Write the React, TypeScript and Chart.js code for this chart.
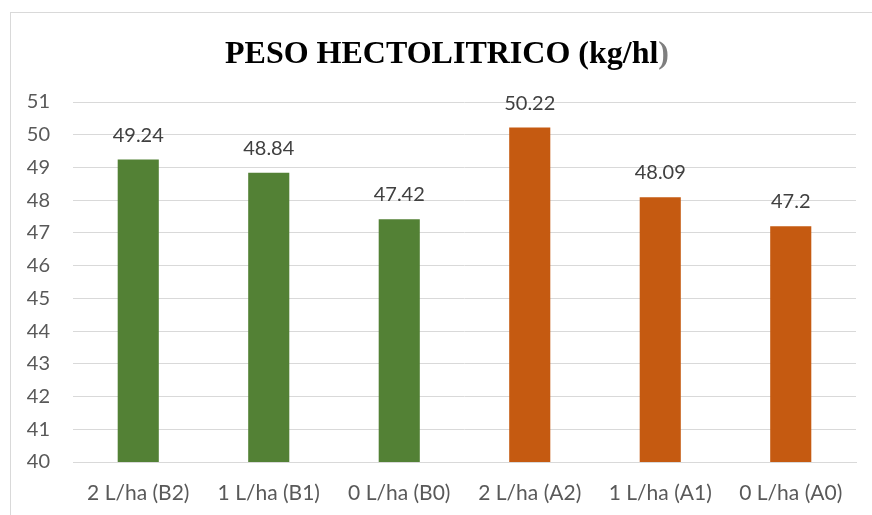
import React, { useEffect, useRef } from "react";
import { Chart, registerables } from "chart.js";

Chart.register(...registerables);

const categories = ["2 L/ha (B2)", "1 L/ha (B1)", "0 L/ha (B0)", "2 L/ha (A2)", "1 L/ha (A1)", "0 L/ha (A0)"];
const values = [49.24, 48.84, 47.42, 50.22, 48.09, 47.2];
const barColors = ["#538135", "#538135", "#538135", "#C55A11", "#C55A11", "#C55A11"];
const titleMain = "PESO HECTOLITRICO (kg/hl";
const titleTail = ")";
const yMin = 40;
const yMax = 51;

const FONT = "Lato, 'Open Sans', sans-serif";

const titlePlugin = {
  id: "twoToneTitle",
  afterDraw(chart: any) {
    const ctx = chart.ctx;
    ctx.save();
    ctx.font = "bold 32px 'Liberation Serif', 'Times New Roman', serif";
    ctx.textBaseline = "alphabetic";
    const w1 = ctx.measureText(titleMain).width;
    const w2 = ctx.measureText(titleTail).width;
    const cx = 447;
    const x0 = cx - (w1 + w2) / 2;
    ctx.textAlign = "left";
    ctx.fillStyle = "#000000";
    ctx.fillText(titleMain, x0, 63);
    ctx.fillStyle = "#7f7f7f";
    ctx.fillText(titleTail, x0 + w1, 63);
    ctx.restore();
  },
};

const valueLabelPlugin = {
  id: "valueLabels",
  afterDatasetsDraw(chart: any) {
    const ctx = chart.ctx;
    const meta = chart.getDatasetMeta(0);
    const data = chart.data.datasets[0].data as number[];
    ctx.save();
    ctx.font = `20px ${FONT}`;
    ctx.fillStyle = "#404040";
    ctx.textAlign = "center";
    ctx.textBaseline = "alphabetic";
    meta.data.forEach((bar: any, i: number) => {
      ctx.fillText(String(data[i]), bar.x, bar.y - 18);
    });
    ctx.restore();
  },
};

export default function App() {
  const ref = useRef<HTMLCanvasElement>(null);

  useEffect(() => {
    if (!ref.current) return;
    const chart = new Chart(ref.current, {
      type: "bar",
      data: {
        labels: categories,
        datasets: [
          {
            data: values,
            backgroundColor: barColors,
            borderWidth: 0,
            categoryPercentage: 1,
            barPercentage: 0.315,
          },
        ],
      },
      options: {
        animation: false,
        responsive: false,
        maintainAspectRatio: false,
        layout: { padding: { top: 102, right: 16, bottom: 0, left: 0 } },
        plugins: {
          legend: { display: false },
          title: { display: false },
          tooltip: { enabled: false },
        },
        scales: {
          x: {
            grid: { display: false, drawTicks: false },
            border: { display: true, color: "#d9d9d9", width: 1 },
            ticks: {
              color: "#595959",
              font: { family: FONT, size: 21 },
              padding: 19,
              maxRotation: 0,
              autoSkip: false,
            },
            afterFit(scale: any) {
              scale.height = 53;
            },
          },
          y: {
            min: yMin,
            max: yMax,
            grid: { color: "#d9d9d9", lineWidth: 1, drawTicks: false },
            border: { display: false },
            ticks: {
              stepSize: 1,
              color: "#595959",
              font: { family: FONT, size: 20 },
              padding: 23,
            },
            afterFit(scale: any) {
              scale.width = 73;
            },
          },
        },
      },
      plugins: [titlePlugin, valueLabelPlugin],
    });
    return () => chart.destroy();
  }, []);

  return (
    <div style={{ position: "fixed", left: 0, top: 0, width: 872, height: 515, background: "#ffffff", overflow: "hidden" }}>
      <div
        style={{
          position: "absolute",
          left: 10,
          top: 12,
          width: 900,
          height: 600,
          border: "1px solid #d9d9d9",
          boxSizing: "border-box",
        }}
      />
      <canvas ref={ref} width={872} height={515} style={{ position: "absolute", left: 0, top: 0 }} />
    </div>
  );
}
